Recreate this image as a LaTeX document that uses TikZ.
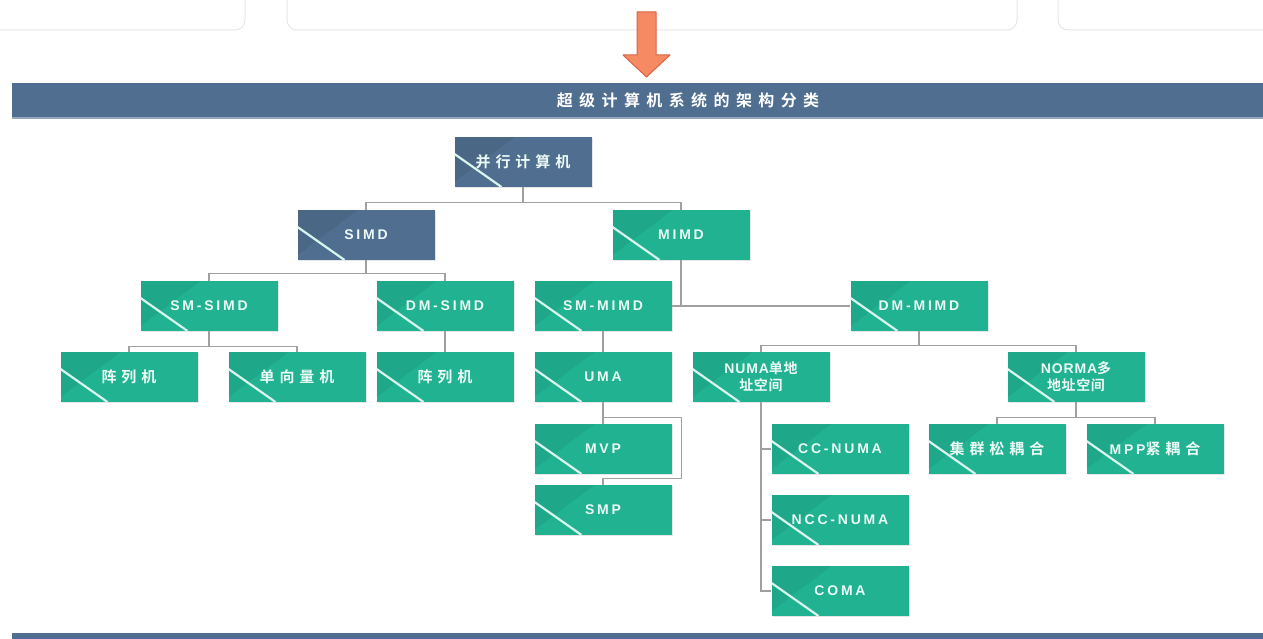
\documentclass[tikz,border=0pt]{standalone}
\usepackage{fontspec}
\usetikzlibrary{shadows}
\setmainfont{Liberation Sans}
\newfontfamily\cjkfam{Noto Sans CJK SC Bold}[LetterSpace=33]
\newfontfamily\cjktitle{Noto Sans CJK SC Bold}[LetterSpace=40]
\newfontfamily\cjktight{Noto Sans CJK SC Bold}[LetterSpace=4]
\newfontfamily\latfam{Liberation Sans Bold}[LetterSpace=20]
\newfontfamily\lattight{Liberation Sans Bold}[LetterSpace=6]
\newcommand{\cj}[1]{{\fontsize{15}{17}\selectfont\cjkfam #1}}
\newcommand{\lt}[1]{{\latfam #1}}
\newcommand{\cjt}[1]{{\cjktight #1}}
\newcommand{\ltt}[1]{{\lattight #1}}
\definecolor{hdrblue}{RGB}{80,110,143}
\definecolor{boxgreen}{RGB}{32,178,145}
\definecolor{stripe}{RGB}{215,245,238}
\definecolor{txt}{RGB}{236,250,246}
\definecolor{arrowor}{RGB}{245,138,99}
\definecolor{arrowdk}{RGB}{215,100,70}
\definecolor{linegray}{RGB}{160,160,160}
\definecolor{cardgray}{RGB}{230,230,230}
\tikzset{
  box/.style={fill=boxgreen, minimum width=137pt, minimum height=50pt, inner sep=0pt,
    text=txt, align=center, font=\fontsize{14}{17}\selectfont,
    drop shadow={shadow xshift=1pt, shadow yshift=-1pt, opacity=0.2},
    path picture={
      \fill[black, opacity=0.06] (path picture bounding box.north west) -- ([xshift=60pt]path picture bounding box.north west) -- ([yshift=-45pt]path picture bounding box.north west) -- cycle;
      \draw[stripe, line width=2.2pt] ([yshift=-17pt]path picture bounding box.north west) -- ([xshift=47pt]path picture bounding box.south west);
    }},
  bluebox/.style={box, fill=hdrblue},
  conn/.style={draw=linegray, line width=1.2pt}
}
\begin{document}
\begin{tikzpicture}[x=1pt, y=-1pt]
\useasboundingbox (0,0) rectangle (1263,639);
\clip (0,0) rectangle (1263,639);
% top cards
\draw[cardgray, line width=1pt, rounded corners=10pt] (-20,-20) rectangle (245,30);
\draw[cardgray, line width=1pt, rounded corners=10pt] (287,-20) rectangle (1017,30);
\draw[cardgray, line width=1pt, rounded corners=10pt] (1058,-20) rectangle (1290,30);
% arrow
\draw[fill=arrowor, draw=arrowdk, line width=1pt, line join=round]
  (637,12) -- (656,12) -- (656,55) -- (670,55) -- (646.5,77) -- (623,55) -- (637,55) -- cycle;
% header bar
\fill[hdrblue] (12,83) rectangle (1263,117);
\fill[hdrblue!60] (12,117) rectangle (1263,119);
\node[text=white, font=\fontsize{16}{18}\selectfont] (title) at (688,100) {{\cjktitle 超级计算机系统的架构分类}};
% bottom bar
\fill[hdrblue] (12,633) rectangle (1263,639);

% nodes
\node[bluebox] (par) at (523,162) {\cj{并行计算机}};
\node[bluebox] (simd) at (366,235) {\lt{SIMD}};
\node[box] (mimd) at (681,235) {\lt{MIMD}};
\node[box] (smsimd) at (209,306) {\lt{SM-SIMD}};
\node[box] (dmsimd) at (445,306) {\lt{DM-SIMD}};
\node[box] (smmimd) at (603,306) {\lt{SM-MIMD}};
\node[box] (dmmimd) at (919,306) {\lt{DM-MIMD}};
\node[box] (arr1) at (129,377) {\cj{阵列机}};
\node[box] (vec) at (297,377) {\cj{单向量机}};
\node[box] (arr2) at (445,377) {\cj{阵列机}};
\node[box] (uma) at (603,377) {\lt{UMA}};
\node[box] (numa) at (761,377) {\ltt{NUMA}\cjt{单地}\\\cjt{址空间}};
\node[box] (norma) at (1076,377) {\ltt{NORMA}\cjt{多}\\\cjt{地址空间}};
\node[box] (mvp) at (603,449) {\lt{MVP}};
\node[box] (smp) at (603,510) {\lt{SMP}};
\node[box] (ccnuma) at (840,449) {\lt{CC-NUMA}};
\node[box] (nccnuma) at (840,520) {\lt{NCC-NUMA}};
\node[box] (coma) at (840,591) {\lt{COMA}};
\node[box] (clu) at (997,449) {\cj{集群松耦合}};
\node[box] (mpp) at (1155,449) {\lt{MPP}\cj{紧耦合}};

% connectors
\draw[conn] (par.south) -- ++(0,15) -| (simd.north);
\draw[conn] (par.south) -- ++(0,15) -| (mimd.north);
\draw[conn] (simd.south) -- ++(0,13) -| (smsimd.north);
\draw[conn] (simd.south) -- ++(0,13) -| (dmsimd.north);
\draw[conn] (mimd.south) -- (mimd.south |- smmimd.east);
\draw[conn] (smmimd.east) -- (dmmimd.west);
\draw[conn] (smsimd.south) -- ++(0,15) -| (arr1.north);
\draw[conn] (smsimd.south) -- ++(0,15) -| (vec.north);
\draw[conn] (dmsimd.south) -- (arr2.north);
\draw[conn] (smmimd.south) -- (uma.north);
\draw[conn] (dmmimd.south) -- ++(0,14) -| (numa.north);
\draw[conn] (dmmimd.south) -- ++(0,14) -| (norma.north);
\draw[conn] (uma.south) -- (mvp.north);
\draw[conn] ([yshift=-15pt]uma.south) -| ([xshift=10pt]mvp.east) |- ([yshift=6pt]smp.north) -- (smp.north);
\draw[conn] (numa.south) -- (numa.south |- coma.west) -- (coma.west);
\draw[conn] (numa.south |- ccnuma.west) -- (ccnuma.west);
\draw[conn] (numa.south |- nccnuma.west) -- (nccnuma.west);
\draw[conn] (norma.south) -- ++(0,15) -| (clu.north);
\draw[conn] (norma.south) -- ++(0,15) -| (mpp.north);
\end{tikzpicture}
\end{document}
